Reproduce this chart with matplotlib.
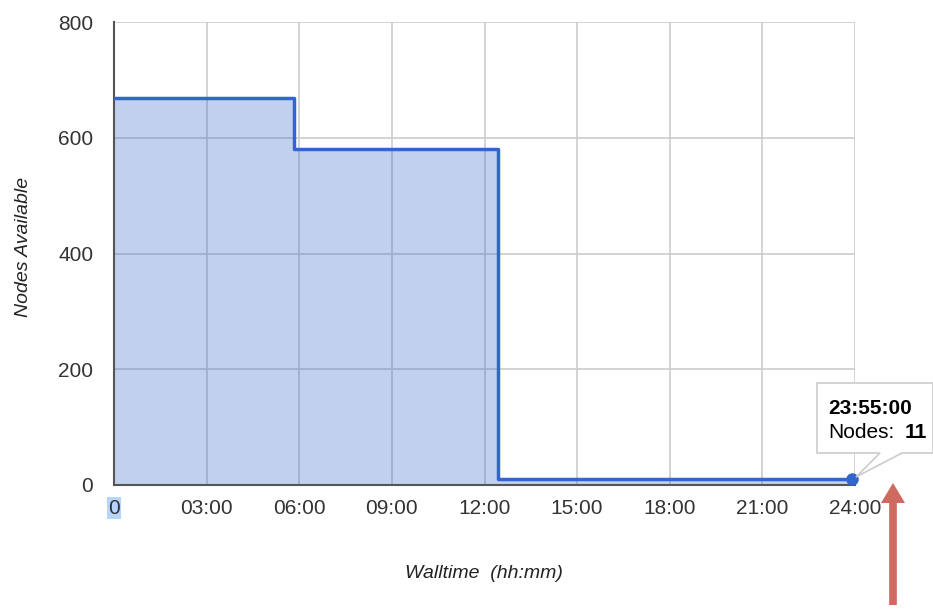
import matplotlib.pyplot as plt
from matplotlib.patches import Polygon, FancyArrow

# walltime in minutes where the available node count changes
step_minutes = [0, 350, 746, 1435]
nodes_available = [668, 580, 11, 11]

x_ticks = [0, 180, 360, 540, 720, 900, 1080, 1260, 1440]
x_tick_labels = ['0', '03:00', '06:00', '09:00', '12:00', '15:00', '18:00', '21:00', '24:00']
y_ticks = [0, 200, 400, 600, 800]

tip_time = '23:55:00'
tip_nodes = 11

plt.rcParams['font.family'] = ['Liberation Sans', 'DejaVu Sans']

W, H = 933, 609
fig = plt.figure(figsize=(W / 100, H / 100), dpi=100)
ax = fig.add_axes([114 / W, 1 - 485 / H, (855 - 114) / W, (485 - 22) / H])

blue = '#3366cc'
ax.fill_between(step_minutes, nodes_available, step='post', color=blue, alpha=0.3, lw=0, zorder=2)
ax.step(step_minutes, nodes_available, where='post', color=blue, lw=2.5, zorder=3)
ax.plot(step_minutes[-1], nodes_available[-1], 'o', color=blue, ms=8, zorder=4, clip_on=False)

ax.set_xlim(0, 1440)
ax.set_ylim(0, 800)
ax.set_xticks(x_ticks)
ax.set_xticklabels(x_tick_labels)
ax.set_yticks(y_ticks)
ax.grid(True, color='#cccccc', lw=1.2, zorder=1)
ax.set_axisbelow(True)
for side in ['top', 'right']:
    ax.spines[side].set_visible(False)
for side in ['left', 'bottom']:
    ax.spines[side].set_color('#555555')
    ax.spines[side].set_linewidth(1.5)
ax.tick_params(length=0, labelsize=15, labelcolor='#333333')
ax.tick_params(axis='x', pad=10)
ax.tick_params(axis='y', pad=15)
ax.get_xticklabels()[0].set_bbox(dict(facecolor='#b5d5ff', edgecolor='none', pad=1))

tf = fig.transFigure.inverted()
def fc(px, py):
    return tf.transform((px, H - py))

# axis titles placed by pixel position
fig.text(*fc(484, 573), 'Walltime  (hh:mm)', fontsize=14, style='italic', color='#222222',
         ha='center', va='center')
fig.text(*fc(24, 247), 'Nodes Available', fontsize=14, style='italic', color='#222222',
         ha='center', va='center', rotation=90)

# tooltip box with a pointer to the last point
box = Polygon([fc(817, 383), fc(933, 383), fc(933, 453), fc(902, 453),
               fc(856, 477), fc(880, 453), fc(817, 453)],
              closed=True, transform=fig.transFigure, facecolor='white',
              edgecolor='#cccccc', lw=1.2, zorder=10)
fig.patches.append(box)
fig.text(*fc(828, 408), tip_time, fontsize=15, weight='bold', color='black',
         va='center', zorder=11)
fig.text(*fc(828, 433), 'Nodes:', fontsize=15, color='black', va='center', zorder=11)
fig.text(*fc(905, 433), str(tip_nodes), fontsize=15, weight='bold', color='black',
         va='center', zorder=11)

# red arrow pointing at the 24:00 end
x0, y0 = fc(893, 605)
x1, y1 = fc(893, 483)
arrow = FancyArrow(x0, y0, 0, y1 - y0, width=5 / H, head_width=24 / W,
                   head_length=20 / H, length_includes_head=True,
                   transform=fig.transFigure, color='#cf6a60', lw=0)
fig.patches.append(arrow)

fig.savefig('out.png', dpi=100)
